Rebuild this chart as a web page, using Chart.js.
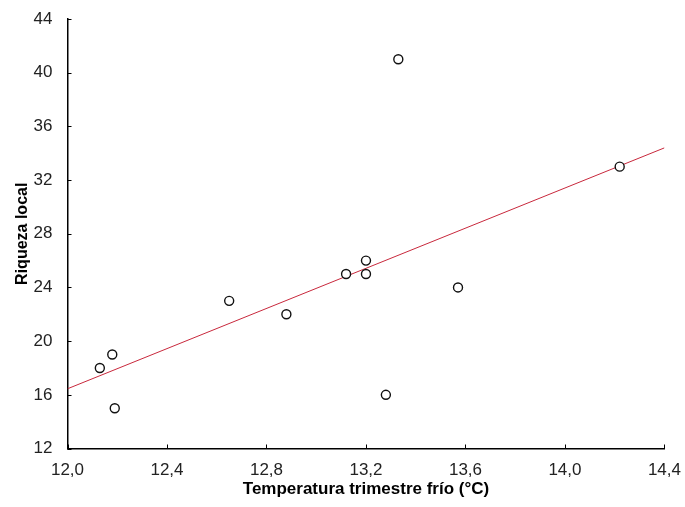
<!DOCTYPE html>
<html>
<head>
<meta charset="utf-8">
<script src="https://cdn.jsdelivr.net/npm/chart.js@4/dist/chart.umd.min.js"></script>
<style>
  html, body { margin: 0; padding: 0; background: #fff; }
  #wrap { width: 685px; height: 507px; }
</style>
</head>
<body>
<div id="wrap"><canvas id="scatterChart"></canvas></div>
<script>
// Riqueza local vs temperatura del trimestre frío
const tempFrio = [12.13, 12.18, 12.19, 12.65, 12.88, 13.12, 13.20, 13.20, 13.33, 13.28, 13.57, 14.22];
const riqueza  = [18, 19, 15, 23, 22, 25, 25, 26, 41, 16, 24, 33];

// recta de ajuste (extremos)
const fitX = [12.0, 14.4];
const fitY = [16.45, 34.4];

const xTicks = [12.0, 12.4, 12.8, 13.2, 13.6, 14.0, 14.4];
const yTicks = [12, 16, 20, 24, 28, 32, 36, 40, 44];

const points = tempFrio.map((t, i) => ({ x: t, y: riqueza[i] }));
const fitLine = fitX.map((t, i) => ({ x: t, y: fitY[i] }));

const fmt = v => v.toFixed(1).replace('.', ',');

// small tick marks drawn inside the plot area
const innerTicks = {
  id: 'innerTicks',
  afterDraw(chart) {
    const c = chart.ctx;
    const xs = chart.scales.x, ys = chart.scales.y;
    c.save();
    c.strokeStyle = '#000';
    c.lineWidth = 1;
    xTicks.forEach(v => {
      const px = Math.round(xs.getPixelForValue(v)) + 0.5;
      c.beginPath();
      c.moveTo(px, ys.bottom);
      c.lineTo(px, ys.bottom - 4);
      c.stroke();
    });
    yTicks.forEach(v => {
      const py = Math.round(ys.getPixelForValue(v)) + 0.5;
      c.beginPath();
      c.moveTo(xs.left, py);
      c.lineTo(xs.left + 4, py);
      c.stroke();
    });
    c.restore();
  }
};

Chart.defaults.font.family = '"Liberation Sans", Arial, sans-serif';
Chart.defaults.color = '#222';

const ctx = document.getElementById('scatterChart').getContext('2d');
const chart = new Chart(ctx, {
  type: 'scatter',
  data: {
    datasets: [
      {
        label: 'Riqueza',
        data: points,
        pointRadius: 4.5,
        pointBorderWidth: 1.4,
        pointBorderColor: '#111',
        pointBackgroundColor: '#fff',
        order: 1
      },
      {
        label: 'Ajuste',
        type: 'line',
        data: fitLine,
        borderColor: '#c8283c',
        borderWidth: 1,
        pointRadius: 0,
        fill: false,
        order: 2
      }
    ]
  },
  options: {
    responsive: true,
    maintainAspectRatio: false,
    animation: false,
    layout: { padding: { left: 9, right: 19, top: 19, bottom: 0 } },
    plugins: {
      legend: { display: false },
      tooltip: { enabled: false }
    },
    scales: {
      x: {
        type: 'linear',
        min: 12.0,
        max: 14.4,
        afterBuildTicks: s => { s.ticks = xTicks.map(v => ({ value: v })); },
        afterFit: s => { s.height = 58.5; },
        grid: { display: false },
        border: { display: true, color: '#000', width: 1.5 },
        ticks: {
          padding: 4,
          maxRotation: 0,
          font: { size: 17 },
          callback: v => fmt(v)
        },
        title: {
          display: true,
          text: 'Temperatura trimestre frío (°C)',
          color: '#000',
          padding: { top: 4, bottom: 7 },
          font: { size: 17, weight: 'bold' }
        }
      },
      y: {
        type: 'linear',
        min: 12,
        max: 44,
        afterBuildTicks: s => { s.ticks = yTicks.map(v => ({ value: v })); },
        afterFit: s => { s.width = 58.5; },
        grid: { display: false },
        border: { display: true, color: '#000', width: 1.5 },
        ticks: {
          padding: 7,
          font: { size: 17 }
        },
        title: {
          display: true,
          text: 'Riqueza local',
          color: '#000',
          font: { size: 16, weight: 'bold' }
        }
      }
    }
  },
  plugins: [innerTicks]
});
</script>
</body>
</html>
